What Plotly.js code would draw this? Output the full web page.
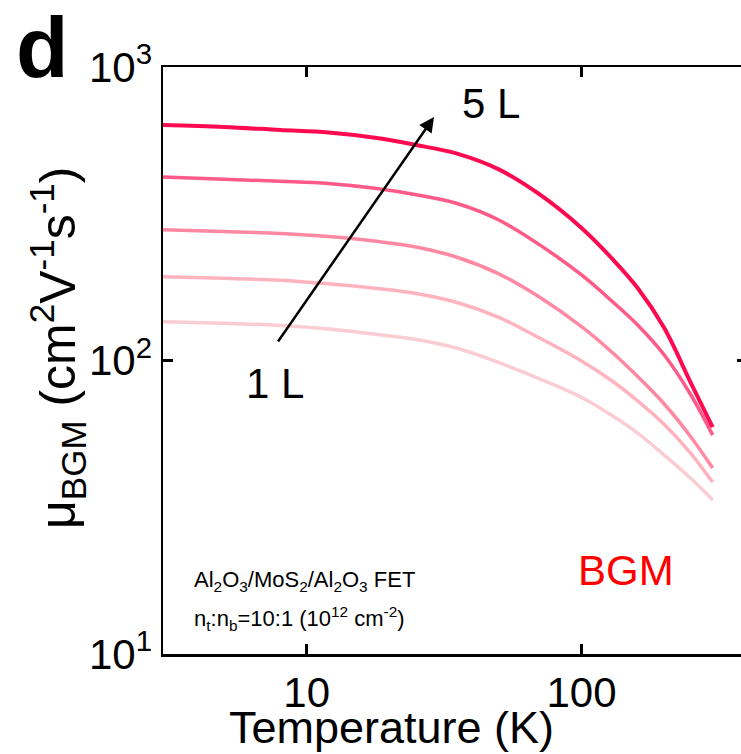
<!DOCTYPE html>
<html>
<head>
<meta charset="utf-8">
<script src="https://cdn.plot.ly/plotly-3.0.1.min.js"></script>
<style>
html,body{margin:0;padding:0;overflow:hidden;background:#fff;}
#chart{width:760px;height:754px;}
</style>
</head>
<body>
<div id="chart"></div>
<script>
// Temperature grid (K)
const temperature = [3, 5, 8, 12, 18, 25, 35, 50, 70, 100, 130, 160, 200, 250, 300];
// Mobility mu_BGM (cm^2 V^-1 s^-1) for each layer count
const mu1L = [135.6, 133.9, 131.6, 128.0, 122.6, 117.9, 110.3, 98.4, 86.8, 74.8, 64.7, 56.6, 47.6, 39.6, 33.5];
const mu2L = [193.0, 190.6, 187.7, 182.5, 175.9, 169.2, 157.9, 140.3, 119.6, 99.6, 84.8, 72.8, 60.5, 48.2, 38.5];
const mu3L = [279.1, 275.1, 270.8, 264.5, 254.7, 243.6, 225.2, 197.3, 164.8, 130.4, 106.1, 88.2, 71.1, 54.9, 43.0];
const mu4L = [421.9, 414.4, 408.0, 401.1, 385.5, 367.2, 343.3, 301.1, 248.7, 195.6, 158.2, 132.1, 104.4, 76.3, 55.7];
const mu5L = [634.5, 624.6, 610.0, 598.3, 573.1, 542.4, 507.6, 447.8, 369.3, 282.8, 220.9, 176.6, 129.0, 83.8, 59.3];

const seriesNames = ['1 L', '2 L', '3 L', '4 L', '5 L'];
const seriesValues = [mu1L, mu2L, mu3L, mu4L, mu5L];
const seriesColors = ['#F9CDD3', '#FFB3BF', '#FF88A3', '#FF5A88', '#FF0A50'];

// Axis ticks
const xTickVals = [10, 100];
const xTickText = ['10', '100'];
const xMinorVals = [4, 5, 6, 7, 8, 9, 20, 30, 40, 50, 60, 70, 80, 90, 200, 300];
const yTickVals = [10, 100, 1000];
const yTickText = ['10<sup>1</sup>', '10<sup>2</sup>', '10<sup>3</sup>'];
const yMinorVals = [20, 30, 40, 50, 60, 70, 80, 90, 200, 300, 400, 500, 600, 700, 800, 900];

const FONT = 'Arial, "Liberation Sans", sans-serif';
const X_RANGE = [Math.log10(3), Math.log10(400)];
const Y_RANGE = [1, 3];
const PLOT_W = 584, PLOT_H = 587;   // plot-area size in px
const MINOR_LEN = 5;                // minor tick length in px

const traces = seriesValues.map((vals, i) => ({
  x: temperature,
  y: vals,
  name: seriesNames[i],
  type: 'scatter',
  mode: 'lines',
  line: {color: seriesColors[i], width: i === 4 ? 4 : 3.5, shape: 'spline', smoothing: 1},
  hoverinfo: 'skip'
}));

// minor tick marks (inside, on all four sides), placed through the axis scales
const minorLine = {color: '#000', width: 2.5};
const fy = MINOR_LEN / PLOT_H, fx = MINOR_LEN / PLOT_W;
const shapes = [];
xMinorVals.forEach(v => {
  const lx = Math.log10(v);
  shapes.push({type: 'line', xref: 'x', yref: 'paper', x0: lx, x1: lx, y0: 0, y1: fy, line: minorLine, layer: 'above'});
  shapes.push({type: 'line', xref: 'x', yref: 'paper', x0: lx, x1: lx, y0: 1, y1: 1 - fy, line: minorLine, layer: 'above'});
});
yMinorVals.forEach(v => {
  const ly = Math.log10(v);
  shapes.push({type: 'line', xref: 'paper', yref: 'y', y0: ly, y1: ly, x0: 0, x1: fx, line: minorLine, layer: 'above'});
  shapes.push({type: 'line', xref: 'paper', yref: 'y', y0: ly, y1: ly, x0: 1, x1: 1 - fx, line: minorLine, layer: 'above'});
});

const axisCommon = {
  showgrid: false,
  zeroline: false,
  showline: true,
  linecolor: '#000',
  linewidth: 2.5,
  mirror: 'ticks',
  ticks: 'inside',
  ticklen: 10,
  tickwidth: 3,
  tickcolor: '#000',
  tickfont: {family: FONT, size: 42, color: '#000'}
};

const layout = {
  width: 760,
  height: 754,
  margin: {l: 163, r: 13, t: 67, b: 100},
  paper_bgcolor: '#fff',
  plot_bgcolor: '#fff',
  showlegend: false,
  font: {family: FONT, color: '#000'},
  xaxis: Object.assign({}, axisCommon, {
    type: 'log', range: X_RANGE, tickmode: 'array', tickvals: xTickVals, ticktext: xTickText
  }),
  yaxis: Object.assign({}, axisCommon, {
    type: 'log', range: Y_RANGE, tickmode: 'array', tickvals: yTickVals, ticktext: yTickText
  }),
  shapes: shapes,
  annotations: [
    {xref: 'paper', yref: 'paper', x: (391 - 163) / 584, y: (654 - 727) / 587, text: 'Temperature (K)', showarrow: false,
     font: {family: FONT, size: 45, color: '#000'}, xanchor: 'center', yanchor: 'middle'},
    {xref: 'paper', yref: 'paper', x: (57 - 163) / 584, y: (654 - 348) / 587, textangle: -90,
     text: 'μ<sub>BGM</sub> (cm<sup>2</sup>V<sup>-1</sup>s<sup>-1</sup>)', showarrow: false,
     font: {family: FONT, size: 50, color: '#000'}, xanchor: 'center', yanchor: 'middle'},
    {xref: 'paper', yref: 'paper', x: -0.2055, y: 1.034, text: '<b>d</b>', showarrow: false,
     font: {family: FONT, size: 86, color: '#000'}, xanchor: 'center', yanchor: 'middle'},
    {xref: 'x', yref: 'y', x: 1.6707, y: 2.874, text: '5 L', showarrow: false,
     font: {family: FONT, size: 42, color: '#000'}, xanchor: 'center', yanchor: 'middle'},
    {xref: 'x', yref: 'y', x: 0.8847, y: 1.9233, text: '1 L', showarrow: false,
     font: {family: FONT, size: 42, color: '#000'}, xanchor: 'center', yanchor: 'middle'},
    {xref: 'x', yref: 'y', axref: 'x', ayref: 'y', x: 1.4633, y: 2.8296, ax: 0.8919, ay: 2.0596,
     text: '', showarrow: true, arrowhead: 2, arrowsize: 1.2, arrowwidth: 2.5, arrowcolor: '#000'},
    {xref: 'paper', yref: 'paper', x: (192 - 163) / 584, y: (654 - 581) / 587,
     text: 'Al<sub>2</sub>O<sub>3</sub>/MoS<sub>2</sub>/Al<sub>2</sub>O<sub>3</sub> FET', showarrow: false,
     font: {family: FONT, size: 22, color: '#000'}, xanchor: 'left', yanchor: 'middle'},
    {xref: 'paper', yref: 'paper', x: (192 - 163) / 584, y: (654 - 618) / 587,
     text: 'n<sub>t</sub>:n<sub>b</sub>=10:1 (10<sup>12</sup> cm<sup>-2</sup>)', showarrow: false,
     font: {family: FONT, size: 22, color: '#000'}, xanchor: 'left', yanchor: 'middle'},
    {xref: 'paper', yref: 'paper', x: (626 - 163) / 584, y: (654 - 570) / 587,
     text: 'BGM', showarrow: false,
     font: {family: FONT, size: 42, color: '#FF0000'}, xanchor: 'center', yanchor: 'middle'}
  ]
};

Plotly.newPlot('chart', traces, layout, {displayModeBar: false, staticPlot: true});
</script>
</body>
</html>
